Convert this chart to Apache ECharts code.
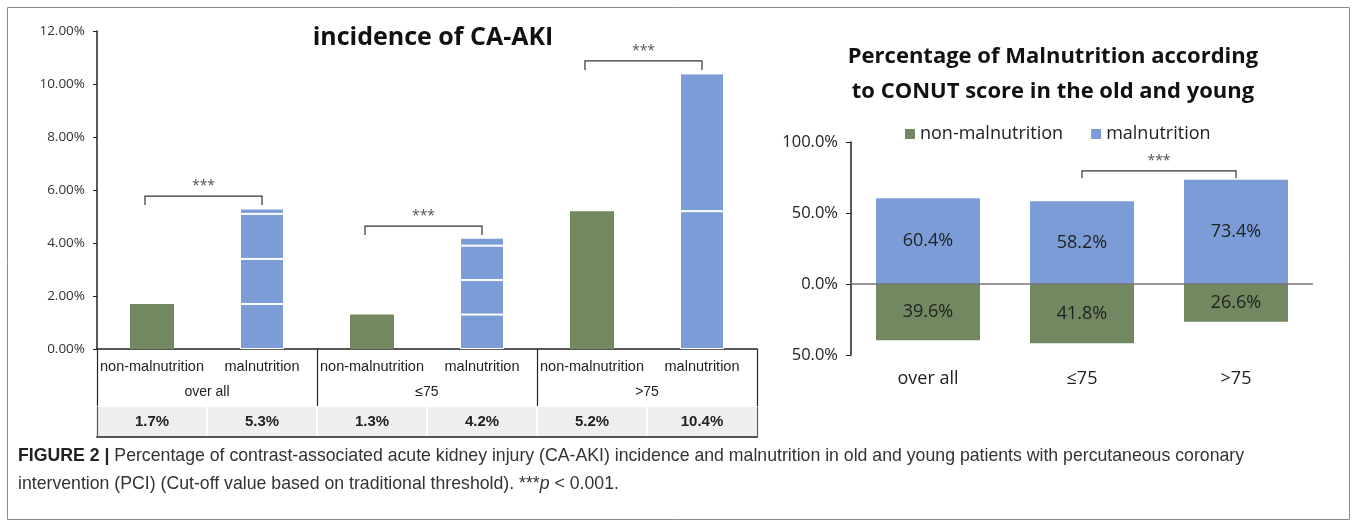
<!DOCTYPE html>
<html>
<head>
<meta charset="utf-8">
<title>CA-AKI incidence and malnutrition</title>
<script src="https://cdn.jsdelivr.net/npm/echarts@6/dist/echarts.min.js"></script>
<style>
html, body { margin: 0; padding: 0; background: #fff; }
#main { width: 1357px; height: 527px; }
</style>
</head>
<body>
<div id="main"></div>
<script>
/* left chart: incidence of CA-AKI (%) */
var groups = ['over all', '≤75', '>75'];
var subCats = ['non-malnutrition', 'malnutrition'];
var nonMalInc = [1.7, 1.3, 5.2];
var malInc = [5.3, 4.2, 10.4];
// pieces of the malnutrition bars (white lines between them)
var malSegments = [[1.7, 1.7, 1.7, 0.2], [1.3, 1.3, 1.3, 0.3], [5.2, 5.2]];
var leftTicks = [0, 2, 4, 6, 8, 10, 12];
// [from idx, to idx, bracket level, end level]
var leftBrackets = [[0, 1, 5.77, 5.43], [2, 3, 4.64, 4.30], [4, 5, 10.87, 10.53]];

/* right chart: malnutrition by CONUT score */
var ageGroups = ['over all', '≤75', '>75'];
var nonMalPct = [39.6, 41.8, 26.6];
var malPct = [60.4, 58.2, 73.4];
var rightTicks = [-50, 0, 50, 100];
var rightBrackets = [[1, 2, 79.6, 74.6]];

var GREEN = '#718860';
var BLUE = '#7b9cd7';
var FONT = 'Open Sans';

var chart = echarts.init(document.getElementById('main'));

// 6 categories for the left chart + table row
var cats6 = [];
var tableLabels = [];
var nonMalData = [];
groups.forEach(function (g, i) {
    cats6.push(subCats[0], subCats[1]);
    tableLabels.push(nonMalInc[i].toFixed(1) + '%', malInc[i].toFixed(1) + '%');
    nonMalData.push(nonMalInc[i], '-');
});

var segSeries = [];
for (var k = 0; k < 4; k++) {
    var d = [];
    for (var g = 0; g < groups.length; g++) {
        var v = malSegments[g][k];
        d.push('-', v === undefined ? '-' : v);
    }
    segSeries.push({
        name: 'mal-seg' + k,
        type: 'bar',
        xAxisIndex: 0,
        yAxisIndex: 0,
        stack: 'inc',
        barWidth: 44,
        itemStyle: { color: BLUE, borderColor: '#fff', borderWidth: 1 },
        data: d
    });
}

function bracketRender(offsetLeft) {
    return function (params, api) {
        var a = api.coord([api.value(0), api.value(2)]);
        var b = api.coord([api.value(1), api.value(2)]);
        var a2 = api.coord([api.value(0), api.value(3)]);
        var b2 = api.coord([api.value(1), api.value(3)]);
        var x1 = a[0] - offsetLeft;
        return {
            type: 'group',
            children: [{
                type: 'polyline',
                shape: { points: [[x1, a2[1]], [x1, a[1]], [b[0], b[1]], [b2[0], b2[1]]] },
                style: { stroke: '#333', fill: null, lineWidth: 1.2 }
            }, {
                type: 'text',
                x: (x1 + b[0]) / 2,
                y: a[1] - 3,
                style: {
                    text: '***', align: 'center', verticalAlign: 'bottom',
                    fill: '#555', font: '14px ' + FONT
                }
            }]
        };
    };
}

var option = {
    animation: false,
    backgroundColor: '#fff',
    textStyle: { fontFamily: FONT },
    graphic: [{
        type: 'rect',
        shape: { x: 7.5, y: 7.5, width: 1342, height: 512 },
        style: { fill: null, stroke: '#8a8a8a', lineWidth: 1 },
        silent: true
    }, {
        type: 'text',
        x: 433, y: 38,
        style: {
            text: 'incidence of CA-AKI', align: 'center', verticalAlign: 'middle',
            font: 'bold 25px ' + FONT, fill: '#111'
        }
    }, {
        type: 'text',
        x: 1053, y: 57,
        style: {
            text: 'Percentage of Malnutrition according', align: 'center', verticalAlign: 'middle',
            font: 'bold 22px ' + FONT, fill: '#111'
        }
    }, {
        type: 'text',
        x: 1053, y: 92,
        style: {
            text: 'to CONUT score in the old and young', align: 'center', verticalAlign: 'middle',
            font: 'bold 22px ' + FONT, fill: '#111'
        }
    }, {
        type: 'text',
        x: 18, y: 456,
        style: {
            text: '{b|FIGURE 2 |} Percentage of contrast-associated acute kidney injury (CA-AKI) incidence and malnutrition in old and young patients with percutaneous coronary',
            verticalAlign: 'middle',
            font: '17.7px Liberation Sans', fill: '#333',
            rich: { b: { fontWeight: 'bold', fontSize: 17.7, fontFamily: 'Liberation Sans', fill: '#222' } }
        }
    }, {
        type: 'text',
        x: 18, y: 484,
        style: {
            text: 'intervention (PCI) (Cut-off value based on traditional threshold). ***{i|p} < 0.001.',
            verticalAlign: 'middle',
            font: '17.7px Liberation Sans', fill: '#333',
            rich: { i: { fontStyle: 'italic', fontSize: 17.7, fontFamily: 'Liberation Sans', fill: '#333' } }
        }
    }],
    legend: {
        data: ['non-malnutrition', 'malnutrition'],
        left: 900,
        top: 120,
        icon: 'rect',
        itemWidth: 10,
        itemHeight: 10,
        itemGap: 28,
        textStyle: { fontSize: 18, color: '#222', fontFamily: FONT }
    },
    grid: [
        { left: 97, right: 600, top: 31, bottom: 178 },
        { left: 97, right: 600, top: 407, bottom: 90 },
        { left: 851, right: 44, top: 142, bottom: 172 }
    ],
    xAxis: [{
        type: 'category',
        gridIndex: 0,
        data: cats6,
        axisLine: { lineStyle: { color: '#222', width: 1.5 } },
        axisTick: { show: false },
        axisLabel: { interval: 0, margin: 10, fontSize: 14.5, color: '#222', fontFamily: 'Liberation Sans' }
    }, {
        type: 'category',
        gridIndex: 0,
        position: 'bottom',
        data: groups,
        axisLine: { show: false },
        axisTick: { show: true, length: 57, interval: 0, lineStyle: { color: '#222', width: 1.2 } },
        axisLabel: { interval: 0, margin: 36, fontSize: 14, color: '#222', fontFamily: 'Liberation Sans' }
    }, {
        type: 'category',
        gridIndex: 1,
        data: tableLabels,
        axisLine: { lineStyle: { color: '#555', width: 2 } },
        axisTick: { show: false },
        splitArea: { show: true, areaStyle: { color: ['#efefef', '#efefef'] } },
        splitLine: { show: true, lineStyle: { color: '#fff', width: 2 } },
        axisLabel: {
            inside: true, interval: 0, margin: 8,
            fontSize: 15, fontWeight: 'bold', color: '#222', fontFamily: 'Liberation Sans'
        }
    }, {
        type: 'category',
        gridIndex: 2,
        data: ageGroups,
        axisLine: { show: false },
        axisTick: { show: false },
        axisLabel: { margin: 15, fontSize: 18, color: '#222' }
    }],
    yAxis: [{
        type: 'value',
        gridIndex: 0,
        min: leftTicks[0],
        max: leftTicks[leftTicks.length - 1],
        interval: 2,
        splitLine: { show: false },
        axisLine: { show: true, lineStyle: { color: '#222', width: 1.5 } },
        axisTick: { show: true, length: 4, lineStyle: { color: '#222' } },
        axisLabel: {
            margin: 12, fontSize: 13.5, color: '#333',
            formatter: function (v) { return v.toFixed(2) + '%'; }
        }
    }, {
        type: 'value',
        gridIndex: 1,
        min: 0, max: 1,
        splitLine: { show: false },
        axisLabel: { show: false },
        axisTick: { show: false },
        axisLine: { show: true, lineStyle: { color: '#555', width: 1.2 } }
    }, {
        type: 'value',
        gridIndex: 1,
        position: 'right',
        min: 0, max: 1,
        splitLine: { show: false },
        axisLabel: { show: false },
        axisTick: { show: false },
        axisLine: { show: true, lineStyle: { color: '#555', width: 1.2 } }
    }, {
        type: 'value',
        gridIndex: 2,
        min: rightTicks[0],
        max: rightTicks[rightTicks.length - 1],
        interval: 50,
        splitLine: { show: false },
        axisLine: { show: true, lineStyle: { color: '#222', width: 1.5 } },
        axisTick: { show: true, length: 5, lineStyle: { color: '#222' } },
        axisLabel: {
            margin: 13, fontSize: 16.5, color: '#222',
            formatter: function (v) { return Math.abs(v).toFixed(1) + '%'; }
        }
    }],
    series: [{
        name: 'inc-non-malnutrition',
        type: 'bar',
        xAxisIndex: 0,
        yAxisIndex: 0,
        stack: 'inc',
        barWidth: 44,
        itemStyle: { color: GREEN },
        data: nonMalData
    }].concat(segSeries).concat([{
        name: 'left-brackets',
        type: 'custom',
        xAxisIndex: 0,
        yAxisIndex: 0,
        clip: false,
        z: 10,
        renderItem: bracketRender(7),
        encode: { x: [0, 1], y: [2, 3] },
        data: leftBrackets
    }, {
        name: 'non-malnutrition',
        type: 'bar',
        xAxisIndex: 3,
        yAxisIndex: 3,
        stack: 'pct',
        barWidth: 104,
        itemStyle: { color: GREEN },
        label: {
            show: true, position: 'inside', fontSize: 18, color: '#222',
            formatter: function (p) { return Math.abs(p.value).toFixed(1) + '%'; }
        },
        data: nonMalPct.map(function (v) { return -v; })
    }, {
        name: 'malnutrition',
        type: 'bar',
        xAxisIndex: 3,
        yAxisIndex: 3,
        stack: 'pct',
        barWidth: 104,
        itemStyle: { color: BLUE },
        label: {
            show: true, position: 'inside', fontSize: 18, color: '#222',
            formatter: function (p) { return p.value.toFixed(1) + '%'; }
        },
        markLine: {
            silent: true,
            symbol: 'none',
            label: { show: false },
            lineStyle: { color: '#777', type: 'solid', width: 1.5 },
            data: [{ yAxis: 0 }]
        },
        data: malPct
    }, {
        name: 'right-brackets',
        type: 'custom',
        xAxisIndex: 3,
        yAxisIndex: 3,
        clip: false,
        z: 10,
        renderItem: bracketRender(0),
        encode: { x: [0, 1], y: [2, 3] },
        data: rightBrackets
    }])
};

chart.setOption(option);
</script>
</body>
</html>
